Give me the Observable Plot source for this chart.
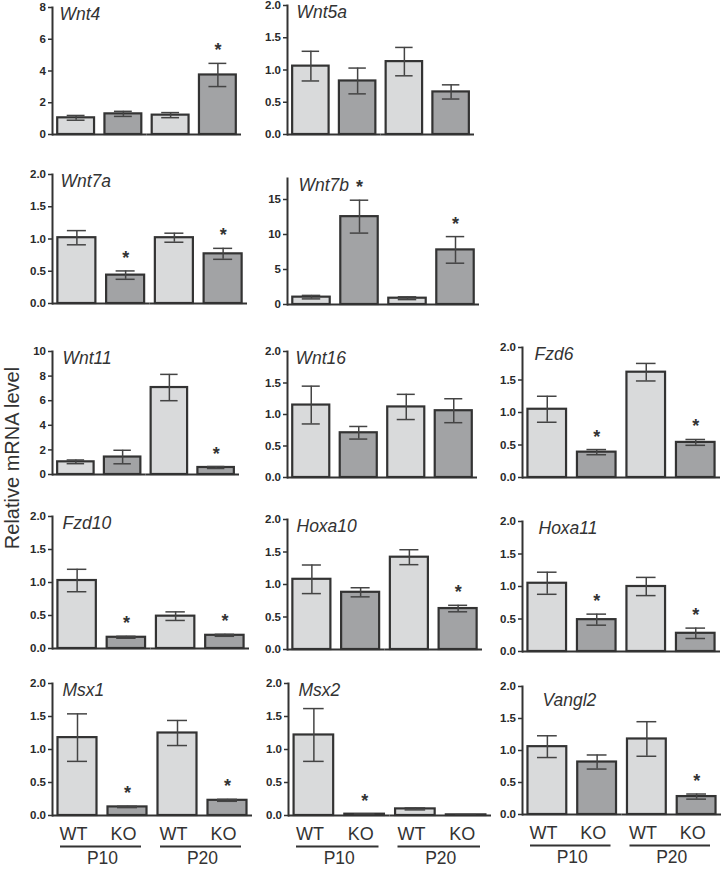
<!DOCTYPE html>
<html><head><meta charset="utf-8">
<script src="https://cdn.jsdelivr.net/npm/d3@7"></script>
<script src="https://cdn.jsdelivr.net/npm/@observablehq/plot@0.6"></script>
<style>
html,body{margin:0;padding:0;background:#fff;}
#chart{position:relative;width:722px;height:870px;overflow:hidden;font-family:"Liberation Sans",Arial,sans-serif;}
#chart svg{position:absolute;overflow:visible;}
#ylabel{position:absolute;left:12px;top:458px;transform:translate(-50%,-50%) rotate(-90deg);font-size:20px;line-height:20px;color:#333;white-space:nowrap;}
</style></head><body><div id="chart"><div id="ylabel">Relative mRNA level</div></div>
<script>
const genes = ["Wnt4","Wnt5a","Wnt7a","Wnt7b","Wnt11","Wnt16","Fzd6","Fzd10","Hoxa10","Hoxa11","Msx1","Msx2","Vangl2"];
const ages = ["P10","P20"];
const genotypes = ["WT","KO"];
// order: P10 WT, P10 KO, P20 WT, P20 KO
const means = [
  [1.05,1.30,1.22,3.75],
  [1.06,0.83,1.13,0.66],
  [1.02,0.44,1.02,0.77],
  [1.05,12.55,0.90,7.80],
  [1.03,1.42,7.07,0.57],
  [1.15,0.71,1.12,1.06],
  [1.05,0.39,1.62,0.54],
  [1.03,0.17,0.49,0.20],
  [1.08,0.88,1.42,0.63],
  [1.05,0.49,1.00,0.28],
  [1.18,0.13,1.25,0.23],
  [1.22,0.02,0.10,0.01],
  [1.06,0.82,1.18,0.28]
];
const sems = [
  [0.15,0.16,0.16,0.73],
  [0.23,0.20,0.22,0.11],
  [0.11,0.065,0.07,0.085],
  [0.25,2.35,0.20,1.90],
  [0.15,0.55,1.07,0.08],
  [0.30,0.10,0.20,0.19],
  [0.20,0.04,0.135,0.045],
  [0.17,0.015,0.065,0.015],
  [0.22,0.07,0.115,0.05],
  [0.17,0.085,0.14,0.08],
  [0.36,0.01,0.19,0.015],
  [0.40,0.005,0.015,0.003],
  [0.17,0.11,0.27,0.04]
];
const stars = [
  [0,0,0,1],[0,0,0,0],[0,1,0,1],[0,1,0,1],[0,0,0,1],[0,0,0,0],[0,1,0,1],
  [0,1,0,1],[0,0,0,1],[0,1,0,1],[0,1,0,1],[0,1,0,0],[0,0,0,1]
];
const yMax = [8,2,2,18,10,2,2,2,2,2,2,2,2];
const yTicks = [
  [0,2,4,6,8],[0,0.5,1,1.5,2],[0,0.5,1,1.5,2],[0,5,10,15],[0,2,4,6,8,10],
  [0,0.5,1,1.5,2],[0,0.5,1,1.5,2],[0,0.5,1,1.5,2],[0,0.5,1,1.5,2],[0,0.5,1,1.5,2],
  [0,0.5,1,1.5,2],[0,0.5,1,1.5,2],[0,0.5,1,1.5,2]
];
const tickDecimals = [0,1,1,0,0,1,1,1,1,1,1,1,1];

// layout: axis x, top y, zero y, right x, title dx, title dy, bottom labels
const layout = [
  {ax:52, top:7, zero:134, right:241, tdx:7, tdy:0, bottom:false},
  {ax:287, top:5, zero:134, right:474, tdx:9, tdy:0, bottom:false},
  {ax:52, top:174, zero:303, right:247, tdx:8, tdy:0, bottom:false},
  {ax:287, top:178, zero:304, right:479, tdx:11, tdy:0, bottom:false},
  {ax:52, top:351, zero:474, right:239, tdx:10, tdy:0, bottom:false},
  {ax:287, top:351, zero:477, right:477, tdx:8, tdy:0, bottom:false},
  {ax:522, top:347, zero:477, right:720, tdx:12, tdy:0, bottom:false},
  {ax:52, top:516, zero:648, right:249, tdx:10, tdy:0, bottom:false},
  {ax:287, top:519, zero:649, right:482, tdx:9, tdy:0, bottom:false},
  {ax:522, top:521, zero:651, right:720, tdx:16, tdy:0, bottom:false},
  {ax:52, top:683, zero:815, right:252, tdx:10, tdy:0, bottom:true},
  {ax:288, top:683, zero:815, right:491, tdx:10, tdy:0, bottom:true},
  {ax:522, top:686, zero:814, right:721, tdx:20, tdy:7, bottom:true}
];

const chart = document.getElementById("chart");
const ML = 32, MR = 4, MT = 10;
const INK = "#333";

genes.forEach((gene, gi) => {
  const L = layout[gi];
  const data = [];
  ages.forEach((a, ai) => genotypes.forEach((g, k) => {
    const j = ai * 2 + k;
    data.push({age: a, geno: g, mean: means[gi][j], sem: sems[gi][j], sig: stars[gi][j] === 1});
  }));
  const MB = L.bottom ? 54 : 6;
  const width = ML + (L.right - L.ax) + MR;
  const height = MT + (L.zero - L.top) + MB;
  const fmt = d3.format("." + tickDecimals[gi] + "f");
  const marks = [
    Plot.barY(data, {fx: "age", x: "geno", y: "mean", fill: "geno", stroke: INK, strokeWidth: 2.2}),
    Plot.ruleX(data, {fx: "age", x: "geno", y1: d => d.mean - d.sem, y2: d => d.mean + d.sem, stroke: "#444", strokeWidth: 1.5}),
    Plot.tickY(data, {fx: "age", x: "geno", y: d => d.mean + d.sem, insetLeft: 9.5, insetRight: 9.5, stroke: "#444", strokeWidth: 1.5}),
    Plot.tickY(data, {fx: "age", x: "geno", y: d => d.mean - d.sem, insetLeft: 9.5, insetRight: 9.5, stroke: "#444", strokeWidth: 1.5}),
    Plot.text(data.filter(d => d.sig), {fx: "age", x: "geno", y: d => d.mean + d.sem, text: () => "*", dy: -7, lineAnchor: "bottom", fontSize: 18, fontWeight: "bold", fill: INK}),
    Plot.ruleY([0], {stroke: INK, strokeWidth: 2.2}),
    Plot.frame({anchor: "left", facetAnchor: "left", stroke: INK, strokeWidth: 2}),
    Plot.axisY({ticks: yTicks[gi], tickFormat: fmt, tickSize: 4, tickPadding: 2.5, fontSize: 11.5, fontWeight: "bold", label: null, stroke: INK, strokeWidth: 1.5, fill: "#2a2a2a"}),
    Plot.text([{age: "P10", name: gene}], {fx: "age", text: "name", frameAnchor: "top-left", textAnchor: "start", lineAnchor: "top", dx: L.tdx, dy: L.tdy, fontSize: 17.5, fontStyle: "italic", fill: INK})
  ];
  if (L.bottom) {
    marks.push(
      Plot.axisX({anchor: "bottom", tickSize: 0, tickPadding: 12, fontSize: 18, dx: -4, label: null, fill: INK}),
      Plot.ruleY([0], {dy: 31, insetLeft: 8, insetRight: 11, stroke: INK, strokeWidth: 2}),
      Plot.axisFx({anchor: "bottom", tickSize: 0, tickPadding: 36, fontSize: 17.5, label: null, fill: INK})
    );
  }
  const svg = Plot.plot({
    width, height,
    marginLeft: ML, marginRight: MR, marginTop: MT, marginBottom: MB,
    style: {background: "transparent", fontFamily: "'Liberation Sans', Arial, sans-serif", color: INK, overflow: "visible"},
    fx: {domain: ages, padding: 0, axis: null, round: false},
    x: {domain: genotypes, paddingInner: 0.22, paddingOuter: 0.11, axis: null, round: false},
    y: {domain: [0, yMax[gi]], axis: null},
    color: {domain: genotypes, range: ["#d9dadb", "#a2a3a5"]},
    marks
  });
  svg.style.left = (L.ax - ML) + "px";
  svg.style.top = (L.top - MT) + "px";
  chart.appendChild(svg);
});
</script></body></html>
